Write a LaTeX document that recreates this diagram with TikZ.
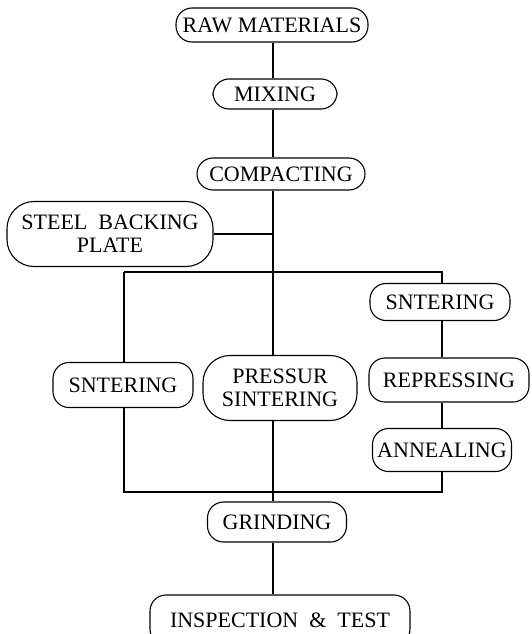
\documentclass[tikz,border=0pt]{standalone}
\usepackage{fontspec}
\setmainfont{Liberation Serif}
\begin{document}
\begin{tikzpicture}[x=1pt,y=-1pt,
  proc/.style={draw, line width=1.1pt, rounded corners=16pt, inner sep=0pt,
    align=center, font=\fontsize{22}{23}\selectfont},
  proc2/.style={proc, rounded corners=27pt},
  conn/.style={line width=1.2pt}]
\useasboundingbox (0,0) rectangle (531,634);
\begin{scope}
\clip (0,0) rectangle (531,634);
\node[proc, minimum width=192pt, minimum height=34pt] (raw) at (272,25) {RAW MATERIALS};
\node[proc, minimum width=124pt, minimum height=30pt] (mix) at (275,94) {MIXING};
\node[proc, minimum width=168pt, minimum height=32pt] (comp) at (281,174) {COMPACTING};
\node[proc2, minimum width=206pt, minimum height=65pt] (steel) at (110,234) {STEEL\ \ BACKING\\PLATE};
\node[proc, minimum width=140pt, minimum height=37pt] (sr) at (440,302) {SNTERING};
\node[proc, minimum width=160pt, minimum height=44pt] (rep) at (449,380) {REPRESSING};
\node[proc, minimum width=139pt, minimum height=43pt] (ann) at (442,450) {ANNEALING};
\node[proc, minimum width=140pt, minimum height=45pt] (sl) at (123,385) {SNTERING};
\node[proc2, minimum width=154pt, minimum height=65pt] (press) at (280,388) {PRESSUR\\SINTERING};
\node[proc, minimum width=139pt, minimum height=40pt] (grind) at (277,522) {GRINDING};
\node[proc, minimum width=260pt, minimum height=50pt] (insp) at (280,620) {INSPECTION\ \ \&\ \ TEST};
\end{scope}
\coordinate (mx) at (273,0);
\coordinate (lt) at (124,272);
\coordinate (rt) at (442,272);
\coordinate (bl) at (124,492);
\coordinate (br) at (442,492);
\draw[conn] (raw.south -| mx) -- (mix.north -| mx);
\draw[conn] (mix.south -| mx) -- (comp.north -| mx);
\draw[conn] (comp.south -| mx) -- (press.north -| mx);
\draw[conn] (steel.east) -- (steel.east -| mx);
\draw[conn] (lt) -- (rt) -- (sr.north -| rt);
\draw[conn] (lt) -- (sl.north -| lt);
\draw[conn] (sl.south -| lt) -- (bl) -- (br) -- (ann.south -| br);
\draw[conn] (sr.south -| rt) -- (rep.north -| rt);
\draw[conn] (rep.south -| rt) -- (ann.north -| rt);
\draw[conn] (press.south -| mx) -- (grind.north -| mx);
\draw[conn] (grind.south -| mx) -- (insp.north -| mx);
\end{tikzpicture}
\end{document}
